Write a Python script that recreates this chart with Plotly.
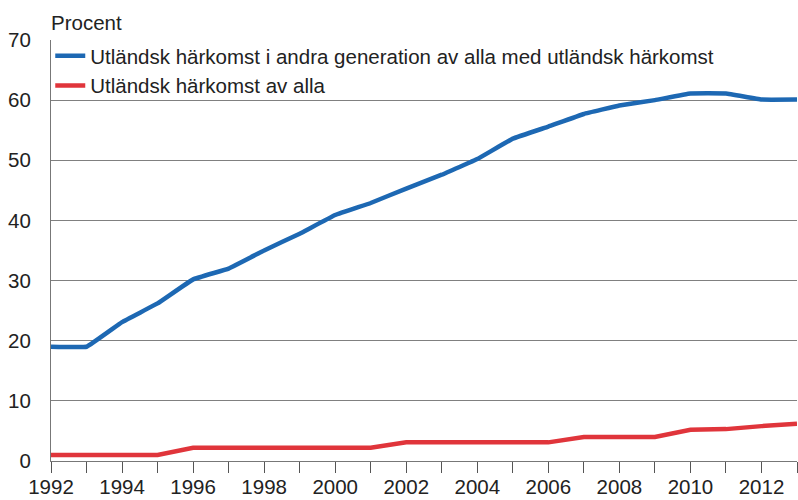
import plotly.graph_objects as go

years = list(range(1992, 2014))
andra_generation = [19.0, 19.0, 23.1, 26.2, 30.2, 32.0, 35.0, 37.8, 40.9, 42.9, 45.3,
                    47.6, 50.2, 53.6, 55.6, 57.7, 59.1, 60.0, 61.1, 61.1, 60.1, 60.1]
av_alla = [1.0, 1.0, 1.0, 1.0, 2.2, 2.2, 2.2, 2.2, 2.2, 2.2, 3.1,
           3.1, 3.1, 3.1, 3.1, 4.0, 4.0, 4.0, 5.2, 5.3, 5.8, 6.2]
name_blue = "Utländsk härkomst i andra generation av alla med utländsk härkomst"
name_red = "Utländsk härkomst av alla"
x_tickvals = list(range(1992, 2014, 2))
y_tickvals = list(range(0, 80, 10))

FONT = "Liberation Sans, Arial, sans-serif"
FS = 20.5
TXT = "#222222"

fig = go.Figure()
fig.add_trace(go.Scatter(x=years, y=andra_generation, mode="lines", name=name_blue,
                         line=dict(color="#1d68b3", width=4.5, shape="spline", smoothing=0.2)))
fig.add_trace(go.Scatter(x=years, y=av_alla, mode="lines", name=name_red,
                         line=dict(color="#e0353b", width=4.5)))

fig.update_layout(
    width=798, height=500,
    margin=dict(l=51, r=1, t=40, b=39, autoexpand=False),
    paper_bgcolor="white", plot_bgcolor="white",
    font=dict(family=FONT, size=FS, color=TXT),
    showlegend=True,
    legend=dict(x=-0.001, y=1.0095, xanchor="left", yanchor="top",
                bgcolor="rgba(0,0,0,0)", borderwidth=0,
                font=dict(family=FONT, size=FS, color=TXT),
                itemwidth=30, tracegroupgap=0),
    xaxis=dict(range=[1992, 2013], tickvals=x_tickvals, ticks="outside", ticklen=11,
               tickcolor="#555555", tickwidth=1, automargin=False,
               minor=dict(dtick=1, tick0=1992, ticks="outside", ticklen=11, tickcolor="#555555", showgrid=False),
               showline=True, linecolor="#777777", linewidth=1, showgrid=False, zeroline=False,
               ticklabelstandoff=-4,
               tickfont=dict(family=FONT, size=FS, color=TXT)),
    yaxis=dict(range=[0, 70], tickvals=y_tickvals, ticks="", showline=True, linecolor="#777777",
               linewidth=1, showgrid=True, gridcolor="#808080", gridwidth=1, zeroline=False,
               automargin=False, ticklabelstandoff=15,
               tickfont=dict(family=FONT, size=FS, color=TXT)),
    annotations=[dict(text="Procent", xref="paper", yref="paper", x=0, y=1, xanchor="left",
                      yanchor="bottom", yshift=4, xshift=-2, showarrow=False,
                      font=dict(family=FONT, size=FS, color=TXT))],
)

fig.write_html("out.html", config={"displayModeBar": False},
               post_script="document.body.style.margin='0';document.body.style.padding='0';document.body.style.overflow='hidden';")
